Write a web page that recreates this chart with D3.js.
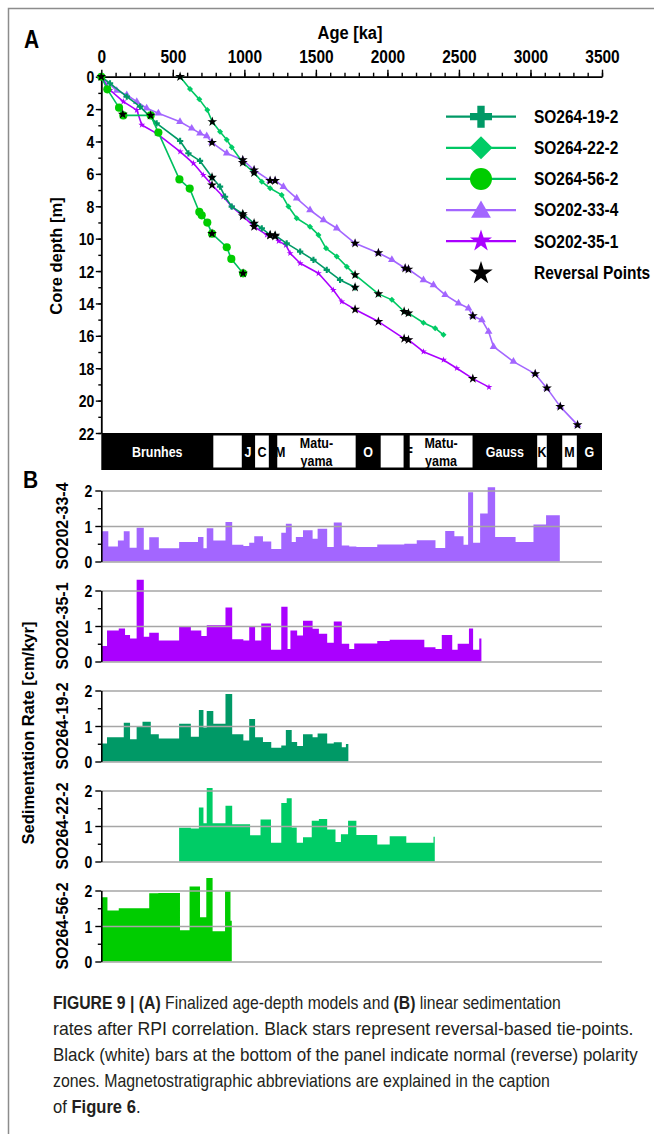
<!DOCTYPE html>
<html>
<head>
<meta charset="utf-8">
<script src="https://cdn.jsdelivr.net/npm/d3@7"></script>
<style>
  html, body { margin: 0; padding: 0; background: #fff; }
  svg { display: block; font-family: "Liberation Sans", Arial, Helvetica, sans-serif; }
</style>
</head>
<body>
<svg id="fig" width="654" height="1134"></svg>
<script>
// ---------------- data ----------------
const ageTicks = [0, 500, 1000, 1500, 2000, 2500, 3000, 3500];
const depthTicks = [0, 2, 4, 6, 8, 10, 12, 14, 16, 18, 20, 22];
const rateTicks = [0, 1, 2];
const rateMinorTicks = [0.5, 1.5];

const coreNames = ["SO264-19-2", "SO264-22-2", "SO264-56-2", "SO202-33-4", "SO202-35-1"];
const coreLineColors = ["#009966", "#00c763", "#00c060", "#a366ff", "#aa00ff"];
const coreMarkColors = ["#009966", "#00cc66", "#00cc00", "#a366ff", "#aa00ff"];

// age-depth models: [age ka, depth m]
const model19_2 = [[0,0],[61,0.41],[178,1.23],[271,1.85],[387,2.88],[551,3.97],[609,4.73],[690,5.2],[774,6.21],[830,6.79],[865,7.41],[912,8.02],[989,8.47],[1068,9.05],[1122,9.36],[1180,9.77],[1215,9.8],[1296,10.29],[1390,10.8],[1483,11.31],[1576,11.93],[1669,12.55],[1774,13.0]];
const model22_2 = [[551,0],[620,0.76],[685,1.4],[741,2.06],[776,2.78],[830,3.4],[877,3.9],[912,4.36],[989,5.3],[1068,5.93],[1122,6.48],[1180,6.89],[1261,7.3],[1308,8.02],[1366,8.74],[1459,9.26],[1518,9.77],[1571,10.6],[1646,11.1],[1716,11.73],[1774,12.24],[1937,13.41],[2031,13.78],[2117,14.5],[2147,14.6],[2252,15.19],[2334,15.53],[2392,15.94]];
const model56_2 = [[0,0],[42,0.78],[124,1.91],[154,2.39],[345,2.39],[399,3.45],[546,6.34],[618,6.91],[685,8.35],[702,8.56],[741,9.01],[774,9.69],[877,10.53],[909,11.25],[991,12.14]];
const model33_4 = [[0,0],[108,0.86],[178,1.13],[248,1.54],[317,1.95],[399,2.26],[550,2.78],[632,3.19],[690,3.5],[737,3.66],[774,4.07],[877,4.73],[989,5.14],[1068,5.76],[1180,6.42],[1215,6.42],[1273,6.79],[1366,7.51],[1459,8.23],[1553,8.85],[1646,9.36],[1774,10.29],[1937,10.88],[2031,11.3],[2124,11.83],[2147,11.89],[2252,12.55],[2322,12.86],[2404,13.47],[2497,13.99],[2567,14.3],[2597,14.77],[2660,15.02],[2707,15.74],[2742,16.67],[2881,17.59],[3033,18.35],[3115,19.23],[3208,20.37],[3329,21.5]];
const model35_1 = [[0,0],[61,0.82],[154,1.54],[248,2.06],[283,2.98],[387,3.5],[551,4.63],[644,5.35],[713,6.07],[774,6.69],[853,7.41],[912,8.02],[989,8.6],[1068,9.26],[1157,9.77],[1180,9.8],[1215,9.85],[1240,10.15],[1290,10.4],[1320,10.9],[1390,11.52],[1518,12.14],[1622,13.17],[1681,13.89],[1774,14.37],[1937,15.12],[2117,16.17],[2147,16.25],[2252,16.98],[2392,17.49],[2485,18.0],[2597,18.64],[2710,19.17]];

// reversal-based tie-points: [age ka, depth m]
const reversals19_2 = [[0,0],[774,6.21],[989,8.47],[1068,9.05],[1180,9.77],[1215,9.8],[1774,13.0]];
const reversals22_2 = [[551,0],[776,2.78],[989,5.3],[1068,5.93],[1774,12.24],[1937,13.41],[2117,14.5],[2147,14.6]];
const reversals56_2 = [[150,2.32],[345,2.39],[774,9.69],[991,12.14]];
const reversals33_4 = [[774,4.07],[989,5.14],[1068,5.76],[1180,6.42],[1215,6.42],[1774,10.29],[1937,10.88],[2124,11.83],[2147,11.89],[2597,14.77],[3033,18.35],[3115,19.23],[3208,20.37],[3329,21.5]];
const reversals35_1 = [[774,6.69],[989,8.6],[1068,9.26],[1180,9.8],[1215,9.85],[1774,14.37],[1937,15.12],[2117,16.17],[2147,16.25],[2597,18.64]];

// polarity chrons (ka); normal = black, reverse = white
const chronEdges = [0, 783, 982, 1075, 1171, 1230, 1778, 1953, 2113, 2156, 2595, 3047, 3114, 3222, 3324, 3500];
const chronNormal = [1, 0, 1, 0, 1, 0, 1, 0, 1, 0, 1, 0, 1, 0, 1];
const chronLabels = ["Brunhes", "J", "C", "M", "Matu-|yama", "O", "F", "Matu-|yama", "Gauss", "K", "M", "G"];
const chronLabelAges = [391, 1026, 1123, 1250, 1504, 1865, 2152, 2375, 2821, 3080, 3273, 3412];
const chronLabelOnBlack = [1, 1, 0, 0, 0, 1, 0, 0, 1, 0, 0, 1];

// linear sedimentation rates (cm/kyr) as steps: edges in ka
const rateNames = ["SO202-33-4", "SO202-35-1", "SO264-19-2", "SO264-22-2", "SO264-56-2"];
const rateColors = ["#a366ff", "#aa00ff", "#009966", "#00cc66", "#00cc00"];
const edges33_4 = [0,49,116,157,198,247,297,335,402,544,676,714,737,783,868,915,993,1034,1069,1130,1188,1258,1290,1331,1360,1410,1477,1512,1579,1625,1681,1733,1783,1929,2118,2205,2336,2404,2468,2532,2564,2599,2648,2701,2753,2896,3021,3109,3205];
const rates33_4 = [0.85,0.42,0.59,0.85,0.39,0.95,0.33,0.68,0.37,0.55,0.69,0.37,0.94,0.59,1.11,0.47,0.44,0.53,0.71,0.56,0.35,0.81,1.06,0.55,0.69,0.88,0.64,0.92,0.41,1.1,0.45,0.42,0.41,0.48,0.5,0.6,0.38,0.86,0.71,0.47,1.95,0.53,1.35,2.09,0.69,0.55,1.04,1.3];
const edges35_1 = [0,40,122,166,201,247,297,335,402,544,626,699,737,868,915,993,1034,1075,1118,1186,1258,1302,1322,1369,1410,1477,1521,1579,1625,1681,1733,1768,1929,2016,2258,2336,2380,2453,2491,2570,2599,2642,2657];
const rates35_1 = [0.44,0.87,0.93,0.75,0.65,2.3,0.7,0.81,0.59,0.98,0.87,0.72,1.02,1.52,0.63,0.59,0.98,0.59,1.07,0.33,1.54,0.35,0.87,0.73,1.15,0.92,0.78,0.53,1.13,0.5,0.35,0.51,0.58,0.61,0.4,0.35,0.75,0.33,0.5,0.93,0.33,0.65];
const edges19_2 = [0,40,157,201,247,288,346,402,544,626,682,714,737,783,868,915,993,1034,1075,1130,1188,1258,1290,1331,1369,1410,1477,1512,1579,1625,1681,1710,1727];
const rates19_2 = [0.51,0.68,1.09,0.63,1.0,1.12,0.77,0.65,1.06,0.7,1.45,0.96,1.42,1.06,1.9,0.77,0.59,1.2,0.68,0.55,0.39,0.45,0.89,0.55,0.44,0.77,0.68,0.79,0.51,0.54,0.4,0.49];
const edges22_2 = [544,626,682,714,737,778,868,915,1040,1113,1186,1258,1296,1331,1366,1410,1471,1521,1579,1637,1675,1725,1783,1929,2016,2132,2322,2331];
const rates22_2 = [0.95,0.93,1.52,1.08,2.07,1.08,1.57,1.05,0.74,1.18,0.53,1.65,1.78,0.96,0.53,0.68,1.15,1.2,0.9,0.55,0.77,1.15,0.75,0.48,0.71,0.53,0.7];
const edges56_2 = [0,43,122,335,399,550,617,690,734,778,865,903,912];
const rates56_2 = [1.81,1.44,1.5,1.92,1.93,0.88,2.11,1.25,2.35,0.85,1.98,1.15];

const captionLines = [
  [["FIGURE 9 | ", true], ["(A)", true], [" Finalized age-depth models and ", false], ["(B)", true], [" linear sedimentation", false]],
  [["rates after RPI correlation. Black stars represent reversal-based tie-points.", false]],
  [["Black (white) bars at the bottom of the panel indicate normal (reverse) polarity", false]],
  [["zones. Magnetostratigraphic abbreviations are explained in the caption", false]],
  [["of ", false], ["Figure 6", true], [".", false]]
];
// right end of each caption line (0 = use the block's mean squeeze)
const captionLineEnds = [561, 634, 638, 550, 0];

// ---------------- drawing ----------------
const svg = d3.select("#fig");
const SY = 1.2;            // tall lettering used for horizontal labels
const BOLD = "bold";

function hText(parent, x, y, str, size, opts = {}) {
  const t = parent.append("text")
    .attr("transform", `translate(${x},${y}) scale(1,${opts.sy || SY})`)
    .attr("font-size", size)
    .attr("font-weight", opts.weight || BOLD)
    .attr("text-anchor", opts.anchor || "start")
    .attr("fill", opts.fill || "#000")
    .text(str);
  if (opts.dy) t.attr("dy", opts.dy);
  return t;
}
function vText(parent, x, y, str, size) {
  return parent.append("text")
    .attr("transform", `translate(${x},${y}) rotate(-90)`)
    .attr("font-size", size)
    .attr("font-weight", BOLD)
    .attr("text-anchor", "middle")
    .attr("dy", "0.35em")
    .attr("fill", "#000")
    .text(str);
}

// figure frame
svg.append("path").attr("d", "M8.5,1134 V8.5 H654").attr("fill", "none")
  .attr("stroke", "#8c8c8c").attr("stroke-width", 1.5);

// ---------- panel A ----------
const xAge = d3.scaleLinear().domain([0, 3500]).range([101.3, 602]);
const yDepth = d3.scaleLinear().domain([0, 22]).range([76.7, 433]);

hText(svg, 24, 48, "A", 21, { sy: 1.25 });
hText(svg, 350, 39, "Age [ka]", 16.5, { anchor: "middle", sy: 1.12 });
vText(svg, 56, 256, "Core depth [m]", 16.5);

function styleAxis(g, w) {
  g.select(".domain").attr("stroke", "#000").attr("stroke-width", w);
  g.selectAll(".tick line").attr("stroke", "#000").attr("stroke-width", 1.4);
}

// top age axis
const topMinor = svg.append("g").attr("transform", `translate(0,${yDepth(0)})`)
  .call(d3.axisTop(xAge).tickValues(d3.range(0, 3501, 100)).tickSize(4).tickFormat(""));
topMinor.select(".domain").remove();
styleAxis(topMinor, 1.6);
const topMajor = svg.append("g").attr("transform", `translate(0,${yDepth(0)})`)
  .call(d3.axisTop(xAge).tickValues(ageTicks).tickSizeInner(7).tickSizeOuter(0).tickFormat(d3.format("d")));
styleAxis(topMajor, 1.8);
topMajor.selectAll("text")
  .attr("font-size", 15.5).attr("font-weight", BOLD).attr("fill", "#000")
  .attr("font-family", '"Liberation Sans", Arial, sans-serif')
  .attr("dy", 0).attr("y", -14 / 1.15).attr("transform", "scale(1,1.15)");

// left depth axis
const leftMinor = svg.append("g").attr("transform", `translate(${xAge(0)},0)`)
  .call(d3.axisLeft(yDepth).tickValues(d3.range(0, 23, 1)).tickSize(3).tickFormat(""));
leftMinor.select(".domain").remove();
styleAxis(leftMinor, 1.6);
const leftMajor = svg.append("g").attr("transform", `translate(${xAge(0)},0)`)
  .call(d3.axisLeft(yDepth).tickValues(depthTicks).tickSizeInner(5.5).tickSizeOuter(0));
styleAxis(leftMajor, 1.8);
leftMajor.selectAll("text")
  .attr("font-size", 14).attr("font-weight", BOLD).attr("fill", "#000")
  .attr("font-family", '"Liberation Sans", Arial, sans-serif')
  .attr("x", -7).attr("dy", "0.36em").attr("transform", `scale(1,${SY})`);

// polarity bar
const barTop = yDepth(22), barBottom = 470;
const gPol = svg.append("g");
gPol.append("rect").attr("x", xAge(0)).attr("y", barTop)
  .attr("width", xAge(3500) - xAge(0)).attr("height", barBottom - barTop).attr("fill", "#000");
chronNormal.forEach((n, i) => {
  if (n) return;
  gPol.append("rect")
    .attr("x", xAge(chronEdges[i])).attr("y", barTop + 2.5)
    .attr("width", xAge(chronEdges[i + 1]) - xAge(chronEdges[i]))
    .attr("height", barBottom - barTop - 5).attr("fill", "#fff");
});
chronLabels.forEach((lab, i) => {
  const parts = lab.split("|");
  const fill = chronLabelOnBlack[i] ? "#fff" : "#000";
  const cx = xAge(chronLabelAges[i]);
  const mid = (barTop + barBottom) / 2;
  if (parts.length === 1) {
    hText(gPol, cx, mid, parts[0], 12.5, { anchor: "middle", fill, dy: "0.36em" });
  } else {
    hText(gPol, cx, mid - 8.5, parts[0], 12.5, { anchor: "middle", fill, dy: "0.36em" });
    hText(gPol, cx, mid + 9.5, parts[1], 12.5, { anchor: "middle", fill, dy: "0.36em" });
  }
});

// age-depth curves
const coreModels = [model19_2, model22_2, model56_2, model33_4, model35_1];
const coreReversals = [reversals19_2, reversals22_2, reversals56_2, reversals33_4, reversals35_1];
const coreSymbols = [d3.symbolCross, d3.symbolSquare, d3.symbolCircle, d3.symbolTriangle, d3.symbolStar];
const coreSymbolRot = [0, 45, 0, 0, 0];
const coreSymbolSize = [22, 18, 52, 26, 14];
const drawOrder = [3, 4, 1, 0, 2];
const line = d3.line().x(d => xAge(d[0])).y(d => yDepth(d[1]));
const gCurves = svg.append("g");
drawOrder.forEach(i => {
  gCurves.append("path").datum(coreModels[i]).attr("d", line)
    .attr("fill", "none").attr("stroke", coreLineColors[i]).attr("stroke-width", 1.6)
    .attr("stroke-linejoin", "round");
  gCurves.append("g").selectAll("path").data(coreModels[i]).enter().append("path")
    .attr("transform", d => `translate(${xAge(d[0])},${yDepth(d[1])}) rotate(${coreSymbolRot[i]})`)
    .attr("d", d3.symbol(coreSymbols[i], coreSymbolSize[i]))
    .attr("fill", coreMarkColors[i]);
});
const gStars = svg.append("g");
coreReversals.forEach(rv => {
  gStars.append("g").selectAll("path").data(rv).enter().append("path")
    .attr("transform", d => `translate(${xAge(d[0])},${yDepth(d[1])})`)
    .attr("d", d3.symbol(d3.symbolStar, 30))
    .attr("fill", "#000");
});

// legend
const legendY = d3.scalePoint().domain(d3.range(6)).range([116.7, 272.3]);
const legendNames = coreNames.concat(["Reversal Points"]);
const legendSizes = [270, 265, 380, 170, 150];
const gLeg = svg.append("g");
legendNames.forEach((name, i) => {
  const y = legendY(i);
  if (i < 5) {
    gLeg.append("line").attr("x1", 446).attr("x2", 516).attr("y1", y).attr("y2", y)
      .attr("stroke", coreLineColors[i]).attr("stroke-width", 2.2);
    gLeg.append("path")
      .attr("transform", `translate(481,${y + (i === 3 ? 2 : 0)}) rotate(${coreSymbolRot[i]})`)
      .attr("d", d3.symbol(coreSymbols[i], legendSizes[i]))
      .attr("fill", coreMarkColors[i]);
  } else {
    gLeg.append("path").attr("transform", `translate(481,${y + 1})`)
      .attr("d", d3.symbol(d3.symbolStar, 170)).attr("fill", "#000");
  }
  hText(gLeg, 534, y, name, 15.5, { dy: "0.36em", sy: 1.15 });
});

// ---------- panel B ----------
hText(svg, 23, 487.5, "B", 21, { sy: 1.18 });
vText(svg, 28, 733, "Sedimentation Rate [cm/kyr]", 16.5);

const rateEdges = [edges33_4, edges35_1, edges19_2, edges22_2, edges56_2];
const rateValues = [rates33_4, rates35_1, rates19_2, rates22_2, rates56_2];

rateNames.forEach((name, i) => {
  const zero = 561.5 + 100 * i;
  const yRate = d3.scaleLinear().domain([0, 2]).range([zero, zero - 71]);
  const g = svg.append("g");
  const vals = rateValues[i];
  const pts = rateEdges[i].map((e, j) => [e, vals[Math.min(j, vals.length - 1)]]);
  const area = d3.area().curve(d3.curveStepAfter)
    .x(d => xAge(d[0])).y0(yRate(0)).y1(d => yRate(d[1]));
  g.append("path").datum(pts).attr("d", area).attr("fill", rateColors[i]);

  // gridlines over the bars
  const grid = g.append("g").attr("transform", `translate(${xAge(0)},0)`)
    .call(d3.axisLeft(yRate).tickValues(rateTicks).tickSize(-(xAge(3500) - xAge(0))).tickFormat(""));
  grid.select(".domain").remove();
  grid.selectAll(".tick line").attr("stroke", "#a6a6a6").attr("stroke-width", 1.6);

  const minor = g.append("g").attr("transform", `translate(${xAge(0)},0)`)
    .call(d3.axisLeft(yRate).tickValues(rateMinorTicks).tickSize(3.5).tickFormat(""));
  minor.select(".domain").remove();
  styleAxis(minor, 1.5);
  const ax = g.append("g").attr("transform", `translate(${xAge(0)},0)`)
    .call(d3.axisLeft(yRate).tickValues(rateTicks).tickSizeInner(6).tickSizeOuter(0).tickFormat(d3.format("d")));
  styleAxis(ax, 1.6);
  ax.selectAll("text")
    .attr("font-size", 14).attr("font-weight", BOLD).attr("fill", "#000")
    .attr("font-family", '"Liberation Sans", Arial, sans-serif')
    .attr("x", -9).attr("dy", "0.36em").attr("transform", `scale(1,${SY})`);

  vText(g, 62, zero - 35.5, name, 16);
});

// ---------- caption ----------
// narrow caption lettering: each line is squeezed horizontally to its column width
const capLeft = 53, capTop = 1009, capLead = 26;
const capRows = captionLines.map((parts, i) => {
  const row = svg.append("g").attr("fill", "#231f20");
  const t = row.append("text").attr("x", 0).attr("y", 0).attr("font-size", 18);
  parts.forEach(p => t.append("tspan").attr("font-weight", p[1] ? "bold" : "normal").text(p[0]));
  return { row, width: t.node().getComputedTextLength(), y: capTop + capLead * i, end: captionLineEnds[i] };
});
const fitted = capRows.filter(r => r.end > 0).map(r => (r.end - capLeft) / r.width);
const meanSqueeze = d3.mean(fitted);
capRows.forEach(r => {
  const sx = r.end > 0 ? (r.end - capLeft) / r.width : meanSqueeze;
  r.row.attr("transform", `translate(${capLeft},${r.y}) scale(${sx},1)`);
});
</script>
</body>
</html>
